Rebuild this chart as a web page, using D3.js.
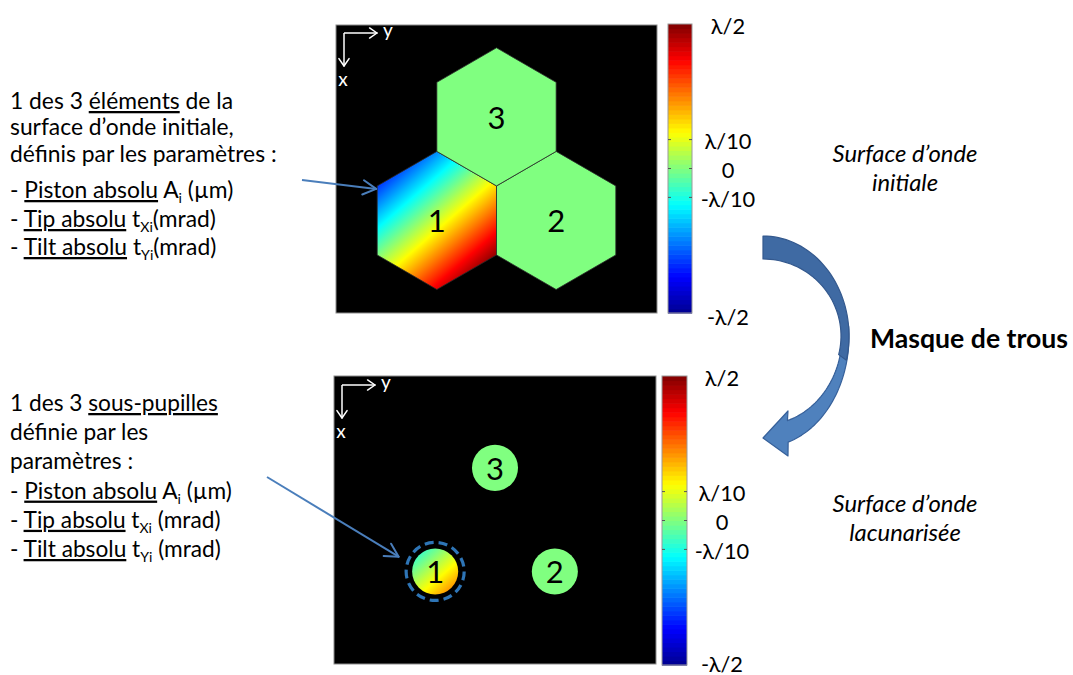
<!DOCTYPE html>
<html><head><meta charset="utf-8">
<script src="https://cdn.jsdelivr.net/npm/d3@7"></script>
<style>
body{margin:0;background:#fff}
svg{display:block}
text{font-family:Lato,'Open Sans',sans-serif;white-space:pre}
</style>
</head><body>
<svg id="c" width="1073" height="675"></svg>
<script>
// ---------------- data ----------------
const segmentLabels = ["1", "2", "3"];
const pistonValues = [0.08, 0, 0];   // in wavelengths
const tipValues    = [0.32, 0, 0];   // along x (downwards), per segment radius
const tiltValues   = [0.28, 0, 0];   // along y (rightwards), per segment radius
const colorbarTickValues = [-0.5, -0.1, 0, 0.1, 0.5];
const colorbarTickLabels = ["-λ/2", "-λ/10", "0", "λ/10", "λ/2"];
const panelTitles = [["Surface d’onde", "initiale"], ["Surface d’onde", "lacunarisée"]];
const maskLabel = "Masque de trous";
const topTextLines = [
  [{t:"1 des 3 "},{t:"éléments",u:1},{t:" de la"}],
  [{t:"surface d’onde initiale,"}],
  [{t:"définis par les paramètres :"}],
  [{t:"- "},{t:"Piston absolu",u:1},{t:" A"},{t:"i",s:1},{t:" (µm)"}],
  [{t:"- "},{t:"Tip absolu",u:1},{t:" t"},{t:"Xi",s:1},{t:"(mrad)"}],
  [{t:"- "},{t:"Tilt absolu",u:1},{t:" t"},{t:"Yi",s:1},{t:"(mrad)"}]
];
const bottomTextLines = [
  [{t:"1 des 3 "},{t:"sous-pupilles",u:1}],
  [{t:"définie par les"}],
  [{t:"paramètres :"}],
  [{t:"- "},{t:"Piston absolu",u:1},{t:" A"},{t:"i",s:1},{t:" (µm)"}],
  [{t:"- "},{t:"Tip absolu",u:1},{t:" t"},{t:"Xi",s:1},{t:" (mrad)"}],
  [{t:"- "},{t:"Tilt absolu",u:1},{t:" t"},{t:"Yi",s:1},{t:" (mrad)"}]
];

// ---------------- helpers ----------------
const svg = d3.select("#c");
const defs = svg.append("defs");

// MATLAB "jet" colormap over [-λ/2, λ/2]
const jetPos = [0, 0.125, 0.375, 0.625, 0.875, 1];
const jetCol = ["#00008f", "#0000ff", "#00ffff", "#ffff00", "#ff0000", "#800000"];
const color = d3.scaleLinear().domain(jetPos.map(t => t - 0.5)).range(jetCol)
  .interpolate(d3.interpolateRgb).clamp(true);

function measure(str, size, weight, style) {
  const t = svg.append("text").attr("font-size", size).attr("font-weight", weight || "normal")
    .attr("font-style", style || "normal").text(str);
  const w = t.node().getComputedTextLength();
  t.remove();
  return w;
}
function fitSize(str, target, weight, style) {
  return 24 * target / measure(str, 24, weight, style);
}
function plain(line) { return line.map(r => r.t).join(""); }

function drawBlock(lines, x, ys, fs) {
  lines.forEach((line, li) => {
    const t = svg.append("text").attr("x", x).attr("y", ys[li])
      .attr("font-size", fs).attr("fill", "#000");
    const shift = fs * 0.22;
    let down = false;
    line.forEach(r => {
      const ts = t.append("tspan").text(r.t);
      if (r.u) ts.attr("text-decoration", "underline");
      if (r.s) { ts.attr("font-size", fs * 0.62).attr("dy", shift); down = true; }
      else if (down) { ts.attr("dy", -shift); down = false; }
    });
  });
}

function arrowHead(g, tip, from, len, ang, col, w) {
  const a = Math.atan2(tip[1] - from[1], tip[0] - from[0]);
  [-ang, ang].forEach(d => {
    g.append("line").attr("x1", tip[0]).attr("y1", tip[1])
      .attr("x2", tip[0] - len * Math.cos(a + d)).attr("y2", tip[1] - len * Math.sin(a + d))
      .attr("stroke", col).attr("stroke-width", w).attr("stroke-linecap", "round");
  });
}

// ---------------- panels ----------------
const panels = [
  {x0:336, x1:657, y0:25, y1:313, cb:{x0:668, x1:692, y0:24, y1:313}, lx:728, botOff:3, mode:"hex"},
  {x0:334, x1:656, y0:376, y1:664, cb:{x0:662, x1:687, y0:376, y1:665}, lx:722, botOff:-2, mode:"disk"}
];
const HALFW = 2.33, DOWN = 1.84;   // pupil-unit extent of each panel (1 unit = segment radius)
const segAngle = i => (150 - 120 * i) * Math.PI / 180;
const subR = 1 / 3;

const labelFs = fitSize("λ/10", 47);

panels.forEach((p, pi) => {
  const sx = d3.scaleLinear([-HALFW, HALFW], [p.x0, p.x1]);
  const sy = d3.scaleLinear([-HALFW, DOWN], [p.y0, p.y1]);
  const unit = sx(1) - sx(0);
  const g = svg.append("g");
  g.append("rect").attr("x", p.x0).attr("y", p.y0).attr("width", p.x1 - p.x0).attr("height", p.y1 - p.y0)
    .attr("fill", "#000").attr("stroke", "#8c8c8c").attr("stroke-width", 1);

  const segs = segmentLabels.map((lab, i) => {
    const a = segAngle(i);
    return {lab, i, cr: Math.cos(a), cd: Math.sin(a),
            A: pistonValues[i], tx: tipValues[i], ty: tiltValues[i]};
  });

  segs.forEach(s => {
    const gm = Math.hypot(s.tx, s.ty);
    if (gm > 0) {
      const ur = s.ty / gm, ud = s.tx / gm;
      const t0 = (-0.5 - s.A) / gm, t1 = (0.5 - s.A) / gm;
      const lg = defs.append("linearGradient").attr("id", `grad${pi}_${s.i}`)
        .attr("gradientUnits", "userSpaceOnUse")
        .attr("x1", sx(s.cr + ur * t0)).attr("y1", sy(s.cd + ud * t0))
        .attr("x2", sx(s.cr + ur * t1)).attr("y2", sy(s.cd + ud * t1));
      d3.range(41).forEach(k => {
        const v = -0.5 + k / 40;
        lg.append("stop").attr("offset", k / 40).attr("stop-color", color(v));
      });
      s.fill = `url(#grad${pi}_${s.i})`;
    } else s.fill = color(s.A);
  });

  if (p.mode === "hex") {
    const hexLine = d3.line().x(d => sx(d[0])).y(d => sy(d[1]));
    segs.forEach(s => {
      const pts = d3.range(6).map(k => {
        const a = (-90 + 60 * k) * Math.PI / 180;
        return [s.cr + Math.cos(a), s.cd + Math.sin(a)];
      });
      g.append("path").attr("d", hexLine(pts) + "Z").attr("fill", s.fill)
        .attr("stroke", "#2a2a2a").attr("stroke-width", 0.8);
    });
  } else {
    segs.forEach(s => {
      g.append("circle").attr("cx", sx(s.cr)).attr("cy", sy(s.cd)).attr("r", subR * unit)
        .attr("fill", s.fill);
    });
    const h = segs[0];
    g.append("circle").attr("cx", sx(h.cr)).attr("cy", sy(h.cd)).attr("r", 0.42 * unit)
      .attr("fill", "none").attr("stroke", "#2e75b6").attr("stroke-width", 3.2)
      .attr("stroke-dasharray", "9 5");
  }
  segs.forEach(s => {
    g.append("text").attr("x", sx(s.cr)).attr("y", sy(s.cd)).attr("text-anchor", "middle")
      .attr("dominant-baseline", "central").attr("font-size", 31).attr("fill", "#000").text(s.lab);
  });

  // axis indicator (white)
  const cx0 = p.x0 + 8, cy0 = p.y0 + 8 + (pi ? 1 : 0);
  const aw = g.append("g");
  const yEnd = [cx0 + 33, cy0], xEnd = [cx0, cy0 + 33];
  [yEnd, xEnd].forEach(e => {
    aw.append("line").attr("x1", cx0).attr("y1", cy0).attr("x2", e[0]).attr("y2", e[1])
      .attr("stroke", "#fff").attr("stroke-width", 1.5);
    arrowHead(aw, e, [cx0, cy0], 9, 0.6, "#fff", 1.5);
  });
  aw.append("text").attr("x", yEnd[0] + 6).attr("y", cy0 + 4).attr("fill", "#fff")
    .attr("font-size", 19).text("y");
  aw.append("text").attr("x", cx0 - 1).attr("y", xEnd[1] + 20).attr("fill", "#fff")
    .attr("text-anchor", "middle").attr("font-size", 19).text("x");

  // colorbar
  const cy = d3.scaleLinear([-0.5, 0.5], [p.cb.y1, p.cb.y0]);
  const n = 64;
  g.selectAll(null).data(d3.range(n)).join("rect")
    .attr("x", p.cb.x0).attr("width", p.cb.x1 - p.cb.x0)
    .attr("y", k => cy(-0.5 + (k + 1) / n)).attr("height", k => cy(-0.5 + k / n) - cy(-0.5 + (k + 1) / n) + 0.6)
    .attr("fill", k => color(-0.5 + (k + 0.5) / n));
  g.append("rect").attr("x", p.cb.x0).attr("y", p.cb.y0).attr("width", p.cb.x1 - p.cb.x0)
    .attr("height", p.cb.y1 - p.cb.y0).attr("fill", "none").attr("stroke", "#9a9a9a").attr("stroke-width", 1);
  colorbarTickValues.forEach((v, k) => {
    if (Math.abs(v) < 0.5) {
      [[p.cb.x0, 3], [p.cb.x1, -3]].forEach(([x, d]) => {
        g.append("line").attr("x1", x).attr("x2", x + d).attr("y1", cy(v)).attr("y2", cy(v))
          .attr("stroke", "#555").attr("stroke-width", 1);
      });
    }
    const off = v === -0.5 ? p.botOff : 1;
    g.append("text").attr("x", p.lx).attr("y", cy(v) + off).attr("text-anchor", "middle")
      .attr("dominant-baseline", "central").attr("font-size", labelFs).attr("fill", "#000")
      .text(colorbarTickLabels[k]);
  });

  // right-side italic titles
  const ty0 = pi === 0 ? 162 : 512;
  const tfs = fitSize(panelTitles[pi][0], 145, "normal", "italic");
  panelTitles[pi].forEach((s, k) => {
    svg.append("text").attr("x", 905).attr("y", ty0 + k * 29).attr("text-anchor", "middle")
      .attr("font-style", "italic").attr("font-size", tfs).attr("fill", "#000").text(s);
  });
  p.sx = sx; p.sy = sy; p.unit = unit;
});

// ---------------- left texts ----------------
const fsTop = fitSize(plain(topTextLines[0]), 223);
drawBlock(topTextLines, 10, [109, 135, 162, 198, 227, 255], fsTop);
const fsBot = fitSize(plain(bottomTextLines[0]), 208);
drawBlock(bottomTextLines, 10, d3.range(6).map(i => 411 + 29.2 * i), fsBot);

// pointer arrows
const blue = "#4a7ebb";
{
  const p = panels[0];
  const a = segAngle(0), v = 210 * Math.PI / 180;
  const tip = [p.sx(Math.cos(a) + Math.cos(v)) - 1, p.sy(Math.sin(a) + Math.sin(v)) + 3];
  const from = [302, 180];
  const g = svg.append("g");
  g.append("line").attr("x1", from[0]).attr("y1", from[1]).attr("x2", tip[0]).attr("y2", tip[1])
    .attr("stroke", blue).attr("stroke-width", 2);
  arrowHead(g, tip, from, 15, 0.5, blue, 2);
}
{
  const p = panels[1];
  const a = segAngle(0), v = 202 * Math.PI / 180, r = 0.42 + 0.15;
  const tip = [p.sx(Math.cos(a) + r * Math.cos(v)), p.sy(Math.sin(a) + r * Math.sin(v))];
  const from = [267, 477];
  const g = svg.append("g");
  g.append("line").attr("x1", from[0]).attr("y1", from[1]).attr("x2", tip[0]).attr("y2", tip[1])
    .attr("stroke", blue).attr("stroke-width", 2);
  arrowHead(g, tip, from, 15, 0.5, blue, 2);
}

// ---------------- curved "mask" arrow ----------------
{
  const cx = 763, cy = 336, D = Math.PI / 180;
  const arc = (rx, ry, a0, a1, n = 40) => d3.range(n + 1).map(k => {
    const a = (a0 + (a1 - a0) * k / n) * D;
    return [cx + rx * Math.cos(a), cy + ry * Math.sin(a)];
  });
  const ln = d3.line();
  const lowerOuter = arc(86, 111, -5, 73);
  const lowerInner = arc(79, 89, 72, -5);
  const lower = [...lowerOuter, [788, 456], [763, 438], [788, 411], ...lowerInner];
  svg.append("path").attr("d", ln(lower) + "Z").attr("fill", "#4f81bd")
    .attr("stroke", "#36609a").attr("stroke-width", 1.2).attr("stroke-linejoin", "round");
  const upper = [...arc(86, 100, -90, 14), ...arc(78, 77, 14, -90)];
  svg.append("path").attr("d", ln(upper) + "Z").attr("fill", "#3f6aa3")
    .attr("stroke", "#34598e").attr("stroke-width", 1.2).attr("stroke-linejoin", "round");
  const mfs = fitSize(maskLabel, 198, "bold");
  svg.append("text").attr("x", 870).attr("y", 348).attr("font-weight", "bold")
    .attr("font-size", mfs).attr("fill", "#000").text(maskLabel);
}
</script>
</body></html>
